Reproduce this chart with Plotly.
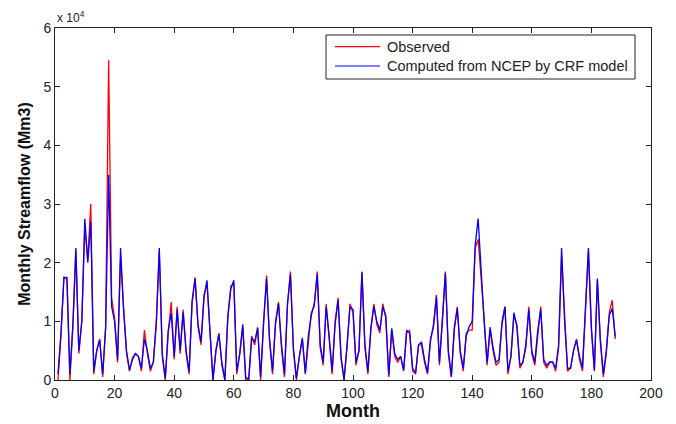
import plotly.graph_objects as go

months = list(range(1, 189))

# Computed from NCEP by CRF model (units of 10^4 Mm3)
computed = [
    0.10, 0.80, 1.75, 1.75, 0.10, 0.95, 2.25, 0.50, 1.00, 2.75,
    2.00, 2.70, 0.15, 0.50, 0.68, 0.10, 0.90, 3.50, 1.25, 1.00,
    0.35, 2.25, 1.20, 0.50, 0.17, 0.35, 0.45, 0.40, 0.20, 0.70,
    0.50, 0.20, 0.30, 1.00, 2.25, 0.45, 0.03, 0.85, 1.14, 0.40,
    1.20, 0.50, 1.15, 0.50, 0.14, 1.35, 1.73, 0.95, 0.65, 1.40,
    1.70, 0.90, 0.00, 0.50, 0.78, 0.30, 0.00, 1.10, 1.55, 1.70,
    0.15, 0.45, 0.95, 0.05, 0.00, 0.72, 0.65, 0.88, 0.05, 1.00,
    1.73, 0.70, 0.15, 0.95, 1.30, 0.60, 0.10, 1.30, 1.80, 0.55,
    0.03, 0.40, 0.72, 0.12, 0.75, 1.10, 1.30, 1.80, 0.60, 0.30,
    1.25, 0.75, 0.15, 0.95, 1.36, 0.40, 0.00, 0.60, 1.25, 1.20,
    0.30, 0.50, 1.83, 0.60, 0.15, 0.90, 1.25, 1.00, 0.85, 1.25,
    1.10, 0.08, 0.88, 0.45, 0.35, 0.40, 0.17, 0.85, 0.80, 0.20,
    0.12, 0.60, 0.65, 0.35, 0.12, 0.70, 0.90, 1.42, 0.30, 1.00,
    1.82, 0.50, 0.06, 0.90, 1.22, 0.50, 0.20, 0.75, 0.91, 1.00,
    2.30, 2.75, 1.75, 1.00, 0.30, 0.90, 0.55, 0.30, 0.35, 0.95,
    1.25, 0.15, 0.40, 1.15, 0.90, 0.25, 0.30, 0.60, 1.20, 0.50,
    0.30, 0.85, 1.20, 0.35, 0.25, 0.31, 0.31, 0.20, 0.60, 2.25,
    1.00, 0.20, 0.20, 0.50, 0.68, 0.40, 0.20, 1.14, 2.25, 0.90,
    0.17, 1.73, 0.70, 0.10, 0.50, 1.10, 1.22, 0.74,
]

# Observed (units of 10^4 Mm3)
observed = [
    0.00, 0.75, 1.75, 1.72, 0.00, 0.90, 2.20, 0.45, 1.00, 2.60,
    2.05, 3.00, 0.10, 0.50, 0.70, 0.05, 0.90, 5.45, 1.40, 1.05,
    0.30, 2.10, 1.25, 0.45, 0.15, 0.38, 0.45, 0.40, 0.15, 0.85,
    0.45, 0.15, 0.30, 0.95, 2.20, 0.40, 0.00, 0.80, 1.33, 0.35,
    1.25, 0.45, 1.20, 0.45, 0.10, 1.30, 1.75, 0.90, 0.60, 1.45,
    1.65, 0.85, 0.00, 0.50, 0.80, 0.25, 0.00, 1.05, 1.60, 1.65,
    0.10, 0.45, 0.90, 0.00, 0.00, 0.75, 0.60, 0.90, 0.00, 0.95,
    1.78, 0.65, 0.10, 1.00, 1.33, 0.55, 0.05, 1.25, 1.85, 0.50,
    0.00, 0.40, 0.70, 0.10, 0.70, 1.15, 1.25, 1.85, 0.55, 0.25,
    1.30, 0.70, 0.10, 1.00, 1.40, 0.35, 0.00, 0.55, 1.30, 1.15,
    0.25, 0.50, 1.85, 0.55, 0.10, 0.85, 1.30, 0.95, 0.80, 1.30,
    1.05, 0.05, 0.85, 0.40, 0.30, 0.40, 0.15, 0.80, 0.85, 0.15,
    0.10, 0.60, 0.60, 0.30, 0.10, 0.65, 0.95, 1.45, 0.25, 1.05,
    1.85, 0.45, 0.05, 0.85, 1.25, 0.45, 0.15, 0.80, 0.85, 0.85,
    2.25, 2.40, 1.80, 1.05, 0.25, 0.85, 0.50, 0.25, 0.30, 1.00,
    1.25, 0.10, 0.40, 1.10, 0.95, 0.20, 0.30, 0.55, 1.25, 0.45,
    0.25, 0.80, 1.25, 0.30, 0.20, 0.30, 0.30, 0.15, 0.55, 2.10,
    1.05, 0.15, 0.20, 0.50, 0.70, 0.35, 0.15, 1.10, 2.20, 0.85,
    0.15, 1.70, 0.65, 0.05, 0.45, 1.15, 1.36, 0.70,
]

series_names = ["Observed", "Computed from NCEP by CRF model"]
series_colors = ["#ff0000", "#0000ff"]

x_ticks = [0, 20, 40, 60, 80, 100, 120, 140, 160, 180, 200]
y_ticks = [0, 1, 2, 3, 4, 5, 6]

FONT = "Liberation Sans, Arial, sans-serif"

fig = go.Figure()
for name, vals, col in zip(series_names, [observed, computed], series_colors):
    fig.add_trace(go.Scatter(
        x=months, y=vals, mode="lines", name=name,
        line=dict(color=col, width=1.3), showlegend=False,
    ))

axis_common = dict(
    showgrid=False, zeroline=False, showline=True, linecolor="#222222",
    linewidth=1, mirror="ticks", ticks="inside", ticklen=5, tickcolor="#222222",
    tickfont=dict(family=FONT, size=14, color="#222222"),
    automargin=False,
)

# page body has an 8px offset; figure is sized so the plot area lands at x 55-651, y 28-380
fig.update_layout(
    width=668, height=416,
    margin=dict(l=47, r=25, t=20, b=44),
    paper_bgcolor="white", plot_bgcolor="white",
    font=dict(family=FONT, size=14, color="#000000"),
    xaxis=dict(
        range=[0, 200], tickvals=x_ticks,
        title=dict(text="<b>Month</b>", font=dict(family=FONT, size=18, color="#111111"), standoff=3),
        **axis_common,
    ),
    yaxis=dict(
        range=[0, 6], tickvals=y_ticks,
        title=dict(text="<b>Monthly Streamflow (Mm3)</b>", font=dict(family=FONT, size=16, color="#111111"), standoff=8),
        **axis_common,
    ),
    showlegend=False,
)

# Legend box drawn in paper coordinates
fig.add_shape(type="rect", xref="paper", yref="paper",
              x0=0.4547, x1=0.9732, y0=0.8551, y1=0.9801,
              line=dict(color="#222222", width=1), fillcolor="white", layer="above")
legend_rows_y = [0.9469, 0.8920]
for name, col, yy in zip(series_names, series_colors, legend_rows_y):
    fig.add_shape(type="line", xref="paper", yref="paper",
                  x0=0.4698, x1=0.5453, y0=yy, y1=yy,
                  line=dict(color=col, width=1.2), layer="above")
    fig.add_annotation(x=0.5537, y=yy, xref="paper", yref="paper",
                       xanchor="left", yanchor="middle", text=name, showarrow=False,
                       font=dict(family=FONT, size=14.5, color="#222222"))

fig.add_annotation(
    x=0, y=1, xref="paper", yref="paper", xanchor="left", yanchor="bottom",
    text="x 10<sup>4</sup>", showarrow=False,
    font=dict(family=FONT, size=12, color="#222222"), yshift=1,
)

fig.write_html("out.html")
